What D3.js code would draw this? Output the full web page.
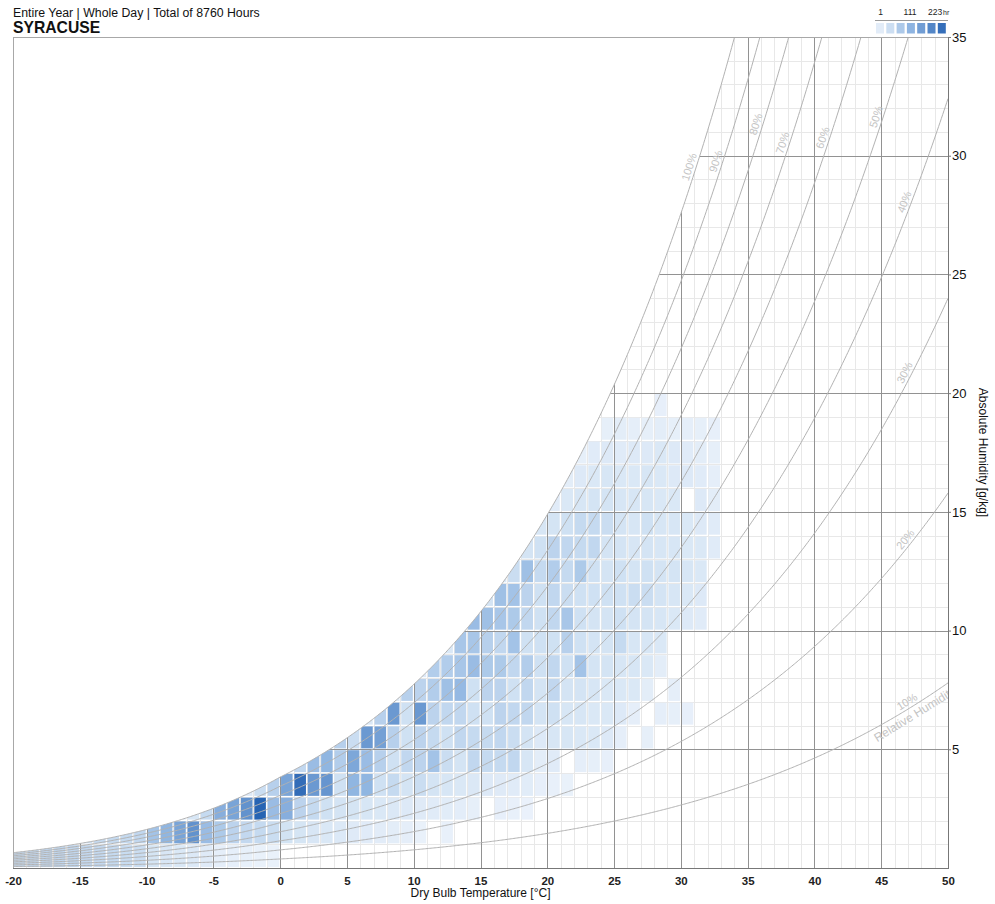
<!DOCTYPE html>
<html><head><meta charset="utf-8">
<script src="https://cdn.jsdelivr.net/npm/d3@7"></script>
<style>
body{margin:0;background:#fff;}
svg{display:block;font-family:"Liberation Sans",Arial,Helvetica,sans-serif;}
</style>
</head><body>
<svg id="c" width="995" height="904"></svg>
<script>
// ---------------- DATA ----------------
const subtitle = "Entire Year | Whole Day | Total of 8760 Hours";
const city = "SYRACUSE";
const xTicks = [-20,-15,-10,-5,0,5,10,15,20,25,30,35,40,45,50];
const yTicks = [5,10,15,20,25,30,35];
const xTitle = "Dry Bulb Temperature [°C]";
const yTitle = "Absolute Humidity [g/kg]";
const rhLevels = [100,90,80,70,60,50,40,30,20,10];
const rhLabelTemp = [31.1,33.1,36.1,38.1,41.1,45.1,47.2,47.2,47.2,47.2];
const legendLabels = ["1","111","223"];
const legendUnit = "hr";
const hoursMin = 1, hoursMax = 223;
// temperature bins (lower edge, °C)
const tempBins = [-20,-19,-18,-17,-16,-15,-14,-13,-12,-11,-10,-9,-8,-7,-6,-5,-4,-3,-2,-1,
  0,1,2,3,4,5,6,7,8,9,10,11,12,13,14,15,16,17,18,19,20,21,22,23,24,25,26,27,28,29,30,31,32];
// humidity bins (lower edge, g/kg)
const humidityBins = [0,1,2,3,4,5,6,7,8,9,10,11,12,13,14,15,16,17,18,19];
// hours per cell, one array per humidity bin, columns follow tempBins
const hoursW0  = [55,58,60,60,60,58,56,55,52,50, 38,34,30,26,22,12,9,7,5,4, 0,0,0,0,0,0,0,0,0,0, 0,0,0,0,0,0,0,0,0,0, 0,0,0,0,0,0,0,0,0,0, 0,0,0];
const hoursW1  = [0,0,0,0,0,45,55,55,55,60, 90,110,135,160,100,80,65,58,55,50, 42,38,34,30,26,22,20,17,15,12, 5,0,6,0,0,0,0,0,0,0, 0,0,0,0,0,0,0,0,0,0, 0,0,0];
const hoursW2  = [0,0,0,0,0,0,0,0,0,0, 0,0,20,35,55,120,135,160,223,100, 120,65,55,45,40,38,35,30,28,25, 22,20,18,14,10,0,8,6,3,0, 0,0,0,0,0,0,0,0,0,0, 0,0,0];
const hoursW3  = [0,0,0,0,0,0,0,0,0,0, 0,0,0,0,0,0,0,25,50,70, 135,210,150,155,45,110,110,45,55,40, 50,40,35,30,28,25,22,20,18,8, 6,4,0,0,0,0,0,0,0,0, 0,0,0];
const hoursW4  = [0,0,0,0,0,0,0,0,0,0, 0,0,0,0,0,0,0,0,0,0, 20,60,100,110,75,130,100,70,45,60, 65,90,50,40,60,55,55,60,35,15, 20,0,12,10,8,0,0,0,0,0, 0,0,0];
const hoursW5  = [0,0,0,0,0,0,0,0,0,0, 0,0,0,0,0,0,0,0,0,0, 0,0,0,15,70,50,150,140,70,45, 65,55,45,60,55,55,60,50,40,25, 35,35,30,30,25,12,0,10,0,0, 0,0,0];
const hoursW6  = [0,0,0,0,0,0,0,0,0,0, 0,0,0,0,0,0,0,0,0,0, 0,0,0,0,0,0,30,70,150,45, 150,65,60,60,45,45,65,60,60,40, 45,35,35,30,30,25,12,0,12,10, 8,0,0];
const hoursW7  = [0,0,0,0,0,0,0,0,0,0, 0,0,0,0,0,0,0,0,0,0, 0,0,0,0,0,0,0,0,25,70, 65,75,95,105,45,65,65,45,60,40, 60,40,40,35,30,30,30,15,0,12, 0,0,0];
const hoursW8  = [0,0,0,0,0,0,0,0,0,0, 0,0,0,0,0,0,0,0,0,0, 0,0,0,0,0,0,0,0,0,0, 25,75,75,85,100,80,80,60,75,45, 60,45,90,40,40,35,35,30,15,0, 0,0,0];
const hoursW9  = [0,0,0,0,0,0,0,0,0,0, 0,0,0,0,0,0,0,0,0,0, 0,0,0,0,0,0,0,0,0,0, 0,0,30,85,85,70,60,90,45,45, 45,70,45,40,40,55,35,35,30,0, 0,0,0];
const hoursW10 = [0,0,0,0,0,0,0,0,0,0, 0,0,0,0,0,0,0,0,0,0, 0,0,0,0,0,0,0,0,0,0, 0,0,0,40,100,95,85,80,60,45, 60,85,45,40,40,45,40,40,35,30, 25,20,0];
const hoursW11 = [0,0,0,0,0,0,0,0,0,0, 0,0,0,0,0,0,0,0,0,0, 0,0,0,0,0,0,0,0,0,0, 0,0,0,0,0,40,95,90,65,45, 60,50,45,45,45,45,50,50,40,35, 30,25,0];
const hoursW12 = [0,0,0,0,0,0,0,0,0,0, 0,0,0,0,0,0,0,0,0,0, 0,0,0,0,0,0,0,0,0,0, 0,0,0,0,0,0,30,50,95,55, 75,55,80,45,40,45,40,45,40,40, 35,30,0];
const hoursW13 = [0,0,0,0,0,0,0,0,0,0, 0,0,0,0,0,0,0,0,0,0, 0,0,0,0,0,0,0,0,0,0, 0,0,0,0,0,0,0,25,40,45, 65,60,55,60,40,40,35,40,35,35, 30,30,20];
const hoursW14 = [0,0,0,0,0,0,0,0,0,0, 0,0,0,0,0,0,0,0,0,0, 0,0,0,0,0,0,0,0,0,0, 0,0,0,0,0,0,0,0,15,35, 40,45,55,55,50,40,35,45,35,35, 30,25,20];
const hoursW15 = [0,0,0,0,0,0,0,0,0,0, 0,0,0,0,0,0,0,0,0,0, 0,0,0,0,0,0,0,0,0,0, 0,0,0,0,0,0,0,0,0,0, 20,30,35,40,40,35,35,35,30,30, 0,25,15];
const hoursW16 = [0,0,0,0,0,0,0,0,0,0, 0,0,0,0,0,0,0,0,0,0, 0,0,0,0,0,0,0,0,0,0, 0,0,0,0,0,0,0,0,0,0, 0,15,25,30,35,30,30,35,30,25, 25,20,12];
const hoursW17 = [0,0,0,0,0,0,0,0,0,0, 0,0,0,0,0,0,0,0,0,0, 0,0,0,0,0,0,0,0,0,0, 0,0,0,0,0,0,0,0,0,0, 0,0,10,20,25,20,25,25,30,25, 20,15,10];
const hoursW18 = [0,0,0,0,0,0,0,0,0,0, 0,0,0,0,0,0,0,0,0,0, 0,0,0,0,0,0,0,0,0,0, 0,0,0,0,0,0,0,0,0,0, 0,0,0,0,10,15,12,10,15,10, 12,10,8];
const hoursW19 = [0,0,0,0,0,0,0,0,0,0, 0,0,0,0,0,0,0,0,0,0, 0,0,0,0,0,0,0,0,0,0, 0,0,0,0,0,0,0,0,0,0, 0,0,0,0,0,0,0,0,8,0, 0,0,0];
const hoursRows = [hoursW0,hoursW1,hoursW2,hoursW3,hoursW4,hoursW5,hoursW6,hoursW7,hoursW8,hoursW9,
  hoursW10,hoursW11,hoursW12,hoursW13,hoursW14,hoursW15,hoursW16,hoursW17,hoursW18,hoursW19];

// ---------------- CHART ----------------
const svg = d3.select("#c");
const x = d3.scaleLinear().domain([-20,50]).range([13,948]);
const y = d3.scaleLinear().domain([0,35]).range([868,37]);
const color = d3.scaleLinear().domain([hoursMin,40,111,hoursMax])
  .range(["#ebf2fb","#d4e4f4","#8fb5e1","#2764b3"]).interpolate(d3.interpolateRgb).clamp(true);

const P = 99.85; // kPa (station pressure)
function pws(T){ return T>=0 ? 0.61094*Math.exp(17.625*T/(T+243.04)) : 0.61115*Math.exp(22.452*T/(272.55+T)); }
function humRatio(T, rh){ const p = rh/100*pws(T); return 622*p/(P-p); }
function tempAt(W, rh){ let lo=-30, hi=80; for(let k=0;k<60;k++){ const m=(lo+hi)/2; if(humRatio(m,rh)<W) lo=m; else hi=m; } return (lo+hi)/2; }

const [x0,x1] = x.range(), [y0,y1] = y.range();
const tTop = tempAt(35,100);
const satPts = d3.range(-20, tTop, 0.1).map(T=>[x(T), y(humRatio(T,100))]);
satPts.push([x(tTop), y(35)]);
const underPts = [[x0,y0], ...satPts, [x1,y1], [x1,y0]];

const defs = svg.append("defs");
defs.append("clipPath").attr("id","under").append("polygon").attr("points", underPts.map(p=>p.join(",")).join(" "));
defs.append("clipPath").attr("id","plot").append("rect").attr("x",x0).attr("y",y1).attr("width",x1-x0).attr("height",y0-y1);

// fine grid
const gFine = svg.append("g").attr("clip-path","url(#under)").attr("stroke","#e8e8e8").attr("stroke-width",1).attr("shape-rendering","crispEdges");
gFine.selectAll("line.v").data(d3.range(-19,50)).join("line").attr("class","v").attr("x1",d=>Math.round(x(d))+0.5).attr("x2",d=>Math.round(x(d))+0.5).attr("y1",y0).attr("y2",y1);
gFine.selectAll("line.h").data(d3.range(1,35)).join("line").attr("class","h").attr("y1",d=>Math.round(y(d))+0.5).attr("y2",d=>Math.round(y(d))+0.5).attr("x1",x0).attr("x2",x1);

// cells
const cells = [];
hoursRows.forEach((row,i)=>row.forEach((v,j)=>{ if(v>0) cells.push({t:tempBins[j], w:humidityBins[i], v}); }));
const inset = 0.9;
svg.append("g").attr("clip-path","url(#under)").selectAll("rect").data(cells).join("rect")
  .attr("x",d=>x(d.t)+inset).attr("y",d=>y(d.w+1)+inset)
  .attr("width",d=>x(d.t+1)-x(d.t)-2*inset).attr("height",d=>y(d.w)-y(d.w+1)-2*inset)
  .attr("fill",d=>color(d.v));

// major grid
const gMaj = svg.append("g").attr("clip-path","url(#under)").attr("stroke","#929292").attr("stroke-width",1).attr("shape-rendering","crispEdges");
gMaj.selectAll("line.v").data(xTicks.filter(t=>t>-20&&t<50)).join("line").attr("class","v").attr("x1",d=>Math.round(x(d))+0.5).attr("x2",d=>Math.round(x(d))+0.5).attr("y1",y0).attr("y2",y1);
gMaj.selectAll("line.h").data(yTicks.filter(w=>w<35)).join("line").attr("class","h").attr("y1",d=>Math.round(y(d))+0.5).attr("y2",d=>Math.round(y(d))+0.5).attr("x1",x0).attr("x2",x1);

// RH curves
const line = d3.line();
const gRH = svg.append("g").attr("clip-path","url(#plot)");
rhLevels.forEach(rh=>{
  const tEnd = Math.min(50, tempAt(35.5, rh));
  const pts = d3.range(-20, tEnd, 0.1).concat([tEnd]).map(T=>[x(T), y(humRatio(T,rh))]);
  gRH.append("path").attr("d", line(pts)).attr("fill","none").attr("stroke","#b2b2b2").attr("stroke-width",1);
});

// RH labels
const gLab = svg.append("g").attr("clip-path","url(#plot)").attr("fill","#c4c4c4").attr("font-size",11);
rhLevels.forEach((rh,i)=>{
  const T = rhLabelTemp[i];
  const px = x(T), py = y(humRatio(T,rh));
  const dx = x(T+0.1)-x(T-0.1), dy = y(humRatio(T+0.1,rh))-y(humRatio(T-0.1,rh));
  const ang = Math.atan2(dy,dx)*180/Math.PI;
  const g = gLab.append("g").attr("transform",`translate(${px},${py}) rotate(${ang})`);
  g.append("text").attr("text-anchor","middle").attr("dy",-3).text(rh+"%");
  if(rh===10) g.append("text").attr("text-anchor","middle").attr("dy",12).attr("dx",0).attr("font-size",12).text("Relative Humidity");
});

// frame & axes
svg.append("rect").attr("x",x0+0.5).attr("y",y1+0.5).attr("width",x1-x0).attr("height",y0-y1).attr("fill","none").attr("stroke","#a8a8a8").attr("shape-rendering","crispEdges");
svg.append("line").attr("x1",x0).attr("x2",x1+0.5).attr("y1",y0+0.5).attr("y2",y0+0.5).attr("stroke","#777").attr("shape-rendering","crispEdges");
svg.append("line").attr("x1",x1+0.5).attr("x2",x1+0.5).attr("y1",y1).attr("y2",y0+0.5).attr("stroke","#777").attr("shape-rendering","crispEdges");

const xAxis = svg.append("g").attr("transform",`translate(0,${y0})`)
  .call(d3.axisBottom(x).tickValues(xTicks).tickSize(0).tickPadding(9).tickFormat(d=>String(d)));
xAxis.select(".domain").remove();
xAxis.selectAll("text").attr("font-size",11.5).attr("font-weight","bold").attr("fill","#222").attr("font-family","Liberation Sans, Arial, sans-serif");

const yAxis = svg.append("g").attr("transform",`translate(${x1},0)`)
  .call(d3.axisRight(y).tickValues(yTicks).tickSize(3).tickPadding(1).tickFormat(d=>String(d)));
yAxis.select(".domain").remove();
yAxis.selectAll("line").attr("stroke","#777");
yAxis.selectAll("text").attr("font-size",13).attr("fill","#111").attr("font-family","Liberation Sans, Arial, sans-serif");

svg.append("text").attr("x",(x0+x1)/2).attr("y",897).attr("text-anchor","middle").attr("font-size",12).attr("fill","#111").text(xTitle);
svg.append("text").attr("transform",`translate(979,${(y0+y1)/2}) rotate(90)`).attr("text-anchor","middle").attr("font-size",12).attr("fill","#111").text(yTitle);

// titles
svg.append("text").attr("x",13).attr("y",17).attr("font-size",12.3).attr("fill","#111").text(subtitle);
svg.append("text").attr("x",13).attr("y",33).attr("font-size",15.7).attr("font-weight","bold").attr("fill","#111").text(city);

// legend
const lg = svg.append("g");
const nBox = 7, boxX0 = 876, boxPitch = 10.3, boxW = 8;
lg.append("line").attr("x1",875).attr("x2",948).attr("y1",20.5).attr("y2",20.5).attr("stroke","#9a9a9a");
lg.selectAll("rect").data(d3.range(nBox)).join("rect")
  .attr("x",i=>boxX0+i*boxPitch).attr("y",23).attr("width",boxW).attr("height",10.5)
  .attr("fill",i=>color(hoursMin+(hoursMax-hoursMin)*(i+0.5)/nBox));
lg.append("text").attr("x",880.5).attr("y",15).attr("text-anchor","middle").attr("font-size",8.5).attr("fill","#222").text(legendLabels[0]);
lg.append("text").attr("x",910).attr("y",15).attr("text-anchor","middle").attr("font-size",8.5).attr("fill","#222").text(legendLabels[1]);
lg.append("text").attr("x",928).attr("y",15).attr("font-size",8.5).attr("fill","#222").text(legendLabels[2]);
lg.append("text").attr("x",943).attr("y",15).attr("font-size",7).attr("fill","#222").text(legendUnit);
</script>
</body></html>
